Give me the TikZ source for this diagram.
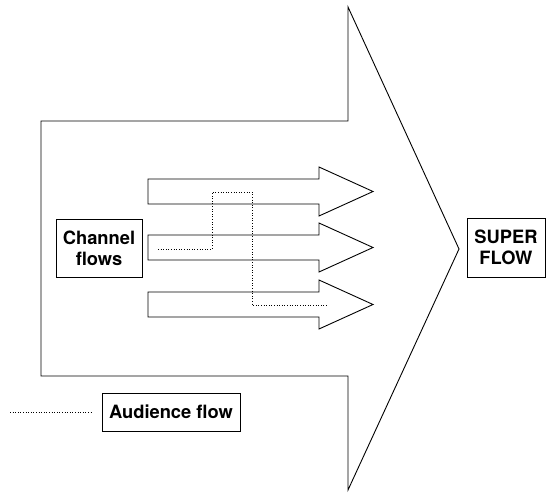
\documentclass[tikz,border=0pt]{standalone}
\usepackage{fontspec}
\setmainfont{TeX Gyre Heros}

\begin{document}
\begin{tikzpicture}
[
    x=1bp, y=-1bp,
    outline/.style={draw, line width=0.9bp, line join=miter},
    box/.style={draw, line width=0.9bp, inner sep=0pt, align=center, font=\fontsize{18.4}{21}\selectfont\bfseries},
    audience/.style={line width=0.8bp, dash pattern=on 0.8bp off 1.8bp},
]
\useasboundingbox (0,0) rectangle (546,493);

% super arrow
\draw[outline] (41,121) -- (348,121) -- (348,7) -- (459,249) -- (348,490) -- (348,376) -- (41,376) -- cycle;

% channel arrows
\foreach \y in {191.5,247.5,304.5}
{
    \draw[outline] (148,\y-12.5) -- (319,\y-12.5) -- (319,\y-24.5) -- (373,\y)
        -- (319,\y+24.5) -- (319,\y+12.5) -- (148,\y+12.5) -- cycle;
}

\node [box, minimum width=86bp, minimum height=58bp] (channel) at (99,248)
{Channel\\flows};
\node [box, minimum width=78bp, minimum height=59bp] (super) at (506,247.5)
{SUPER\\FLOW};
\node [box, minimum width=138bp, minimum height=38bp] (legend) at (171,412)
{Audience flow};

% audience path
\coordinate (aud start) at (158,249);
\coordinate (aud end) at (327,305);
\draw[audience] (aud start) -| (212,192) -| (252,305) -- (aud end);

\coordinate (legend start) at (10,412);
\draw[audience, shorten >=10bp] (legend start) -- (legend.west);
\end{tikzpicture}
\end{document}
